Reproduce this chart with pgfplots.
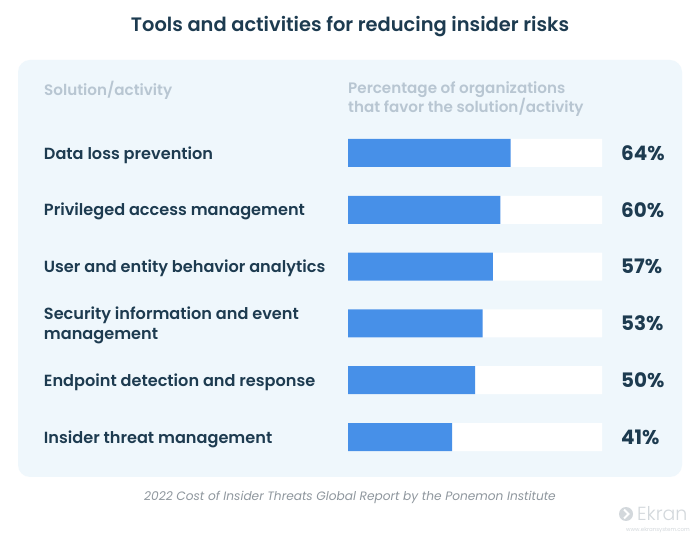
\documentclass[border=0pt]{standalone}
\usepackage{pgfplots}
\pgfplotsset{compat=1.18}
\usepackage{pgfplotstable}
\usepackage{fontspec}
\setmainfont{Poppins}
\newfontfamily\pmed{Poppins Medium}
\newfontfamily\psemi{Poppins SemiBold}
\newfontfamily\plight{Poppins Light}
\definecolor{navy}{HTML}{1D3B50}
\definecolor{panel}{HTML}{EFF7FC}
\definecolor{barblue}{HTML}{4790E8}
\definecolor{hdr}{HTML}{B8C6D2}
\definecolor{foot}{HTML}{8F979E}
\definecolor{logo}{HTML}{D3D8DC}

\pgfplotstableread{
y val full
0 64 100
1 60 100
2 57 100
3 53 100
4 50 100
5 41 100
}\datatable

\begin{document}
\begin{tikzpicture}
\fill[white] (0bp,0bp) rectangle (700bp,541bp);
\fill[panel, rounded corners=12bp] (18bp,64bp) rectangle (682bp,481bp);
\node[font=\psemi\fontsize{19.5}{23}\selectfont, text=navy] at (350bp,514bp) {Tools and activities for reducing insider risks};
\node[anchor=west, inner sep=0pt, font=\psemi\fontsize{15.2}{17}\selectfont, text=hdr] at (44bp,451bp) {Solution/activity};
\node[anchor=north west, inner sep=0pt, align=left, font=\psemi\fontsize{15.2}{17}\selectfont, text=hdr] at (348bp,460bp) {Percentage of organizations\\that favor the solution/activity};
\node[font=\itshape\fontsize{12.2}{14}\selectfont, text=foot] at (350bp,44bp) {2022 Cost of Insider Threats Global Report by the Ponemon Institute};
\fill[logo] (626bp,27bp) circle (7bp);
\draw[white, line width=1.8bp] (624bp,31.5bp) -- (628.5bp,27bp) -- (624bp,22.5bp);
\node[anchor=west, inner sep=0pt, font=\plight\fontsize{19}{20}\selectfont, text=logo] at (637bp,27bp) {Ekran};
\node[anchor=east, inner sep=0pt, font=\fontsize{5.5}{6}\selectfont, text=logo] at (690bp,11bp) {www.ekransystem.com};
\begin{axis}[
  at={(348bp,75.6bp)}, anchor=south west,
  scale only axis, width=254bp, height=340.8bp,
  xmin=0, xmax=100, ymin=-0.5, ymax=5.5, y dir=reverse,
  xbar, bar width=28bp,
  axis line style={draw=none}, tick style={draw=none},
  xtick=\empty, ytick={0,...,5},
  yticklabels={Data loss prevention,Privileged access management,User and entity behavior analytics,{Security information and event\\management},Endpoint detection and response,Insider threat management},
  yticklabel style={anchor=west, xshift=-300bp, yshift=-2bp, inner sep=0pt, align=left, font=\psemi\fontsize{16.2}{19.5}\selectfont, text=navy},
  /pgf/number format/assume math mode=true,
  clip=false,
]
\addplot[fill=white, draw=none, bar shift=0pt, point meta=explicit,
  nodes near coords={\pgfmathprintnumber{\pgfplotspointmeta}\%},
  every node near coord/.append style={anchor=west, inner sep=0pt, xshift=19bp, font=\bfseries\fontsize{20}{22}\selectfont, text=navy}]
  table[x=full, y=y, meta=val]{\datatable};
\addplot[fill=barblue, draw=none, bar shift=0pt] table[x=val, y=y]{\datatable};
\end{axis}
\end{tikzpicture}
\end{document}
